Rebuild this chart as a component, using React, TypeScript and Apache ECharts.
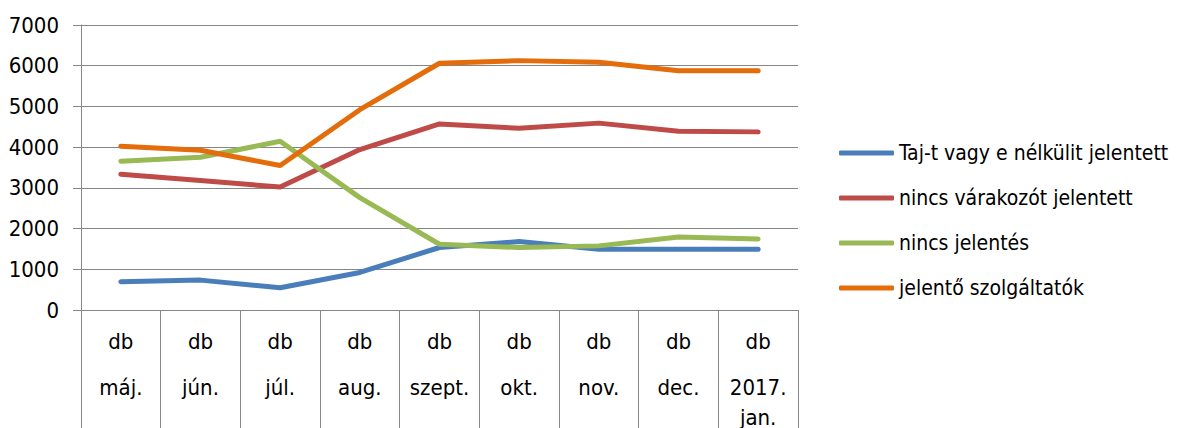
import React, { useEffect, useRef } from "react";
import * as echarts from "echarts";

const months = ["máj.", "jún.", "júl.", "aug.", "szept.", "okt.", "nov.", "dec.", "2017.\njan."];
const unit = "db";
const seriesNames = [
  "Taj-t vagy e nélkülit jelentett",
  "nincs várakozót jelentett",
  "nincs jelentés",
  "jelentő szolgáltatók",
];
const tajValues = [693, 734, 546, 922, 1535, 1680, 1493, 1493, 1493];
const nincsVarakozoValues = [3336, 3180, 3020, 3940, 4570, 4462, 4590, 4390, 4375];
const nincsJelentesValues = [3655, 3750, 4145, 2760, 1615, 1535, 1575, 1795, 1745];
const jelentoValues = [4020, 3925, 3550, 4920, 6060, 6125, 6085, 5875, 5875];
const colors = ["#4A7EBB", "#BE4B48", "#98B954", "#E46C0A"];

const FONT = "'Liberation Sans Narrow', 'DejaVu Sans Condensed', 'Liberation Sans', sans-serif";

export default function App() {
  const ref = useRef<HTMLDivElement>(null);
  useEffect(() => {
    document.body.style.margin = "0";
    const chart = echarts.init(ref.current!, null, { renderer: "svg" });
    const data = [tajValues, nincsVarakozoValues, nincsJelentesValues, jelentoValues];
    chart.setOption({
      animation: false,
      backgroundColor: "#ffffff",
      grid: { left: 81, top: 25, right: 383, bottom: 117 },
      legend: {
        orient: "vertical",
        left: 834,
        top: 136,
        itemWidth: 55,
        itemHeight: 5,
        itemGap: 21,
        icon: "roundRect",
        textStyle: { fontFamily: FONT, fontSize: 21, color: "#000", lineHeight: 24 },
        data: seriesNames,
      },
      xAxis: {
        type: "category",
        data: months,
        boundaryGap: true,
        axisLine: { lineStyle: { color: "#868686", width: 1 } },
        axisTick: { show: true, interval: 0, length: 130, lineStyle: { color: "#868686", width: 1 } },
        axisLabel: {
          interval: 0,
          margin: 0,
          formatter: (v: string) => {
            const lines = v.split("\n").map((s) => `{m|${s}}`).join("\n");
            return `{d|${unit}}\n${lines}`;
          },
          rich: {
            d: { fontFamily: FONT, fontSize: 22, color: "#000", lineHeight: 62 },
            m: { fontFamily: FONT, fontSize: 22, color: "#000", lineHeight: 30 },
          },
          verticalAlign: "top",
        },
      },
      yAxis: {
        type: "value",
        min: 0,
        max: 7000,
        interval: 1000,
        axisLine: { show: true, lineStyle: { color: "#868686", width: 1 } },
        axisTick: { show: true, length: 8, lineStyle: { color: "#868686", width: 1 } },
        splitLine: { show: true, lineStyle: { color: "#868686", width: 1 } },
        axisLabel: {
          fontFamily: FONT,
          fontSize: 22,
          color: "#000",
          margin: 22,
          formatter: (v: number) => String(v),
        },
      },
      series: seriesNames.map((name, i) => ({
        name,
        type: "line",
        data: data[i],
        showSymbol: false,
        symbol: "none",
        color: colors[i],
        lineStyle: { width: 5, color: colors[i], cap: "round", join: "round" },
        itemStyle: { color: colors[i] },
      })),
    });
    return () => chart.dispose();
  }, []);
  return <div ref={ref} style={{ width: 1181, height: 428 }} />;
}
